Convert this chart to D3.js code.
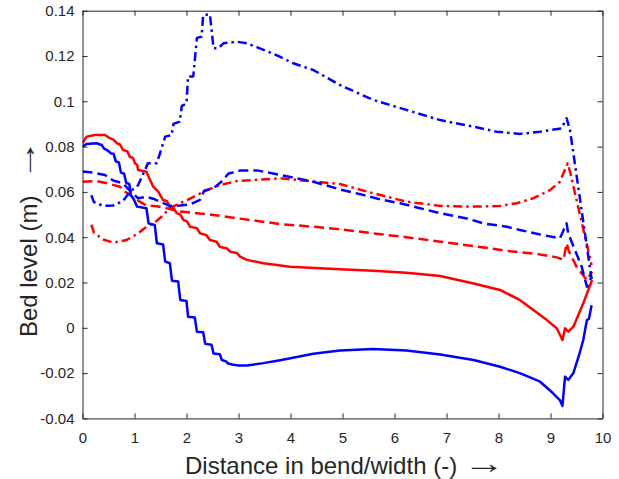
<!DOCTYPE html>
<html>
<head>
<meta charset="utf-8">
<script src="https://cdn.jsdelivr.net/npm/d3@7"></script>
<style>
  html, body { margin: 0; padding: 0; background: #fff; }
  svg { display: block; }
  text { font-family: "Liberation Sans", Arial, Helvetica, sans-serif; fill: #262626; }
</style>
</head>
<body>
<svg id="chart" width="619" height="479"></svg>
<script>
// ---- data ----
const xTicks = [0, 1, 2, 3, 4, 5, 6, 7, 8, 9, 10];
const yTicks = [0.14, 0.12, 0.1, 0.08, 0.06, 0.04, 0.02, 0, -0.02, -0.04];
const yTickLabels = ["0.14", "0.12", "0.1", "0.08", "0.06", "0.04", "0.02", "0", "-0.02", "-0.04"];
const xLabel = "Distance in bend/width (-)";
const yLabel = "Bed level (m)";
const arrow = "\u2192";

const blueSolid = [[0.0,0.0800],[0.08,0.0812],[0.27,0.0815],[0.37,0.0807],[0.42,0.079],[0.47,0.0785],[0.55,0.077],[0.6,0.0768],[0.64,0.0735],[0.7,0.073],[0.74,0.0685],[0.8,0.068],[0.84,0.064],[0.9,0.0635],[0.93,0.0585],[0.98,0.057],[1.05,0.0535],[1.23,0.0528],[1.27,0.0461],[1.39,0.0454],[1.43,0.0373],[1.55,0.0368],[1.59,0.0292],[1.68,0.0285],[1.72,0.0208],[1.84,0.0204],[1.88,0.0123],[2.0,0.0118],[2.03,0.0049],[2.16,0.0045],[2.2,-0.0017],[2.32,-0.002],[2.36,-0.0071],[2.48,-0.0075],[2.52,-0.0113],[2.64,-0.0117],[2.68,-0.0142],[2.76,-0.0148],[2.8,-0.0158],[2.9,-0.0163],[3.0,-0.0166],[3.16,-0.0166],[3.48,-0.0156],[3.8,-0.0143],[4.12,-0.0129],[4.44,-0.0115],[4.95,-0.0100],[5.59,-0.0094],[6.23,-0.0100],[6.88,-0.0118],[7.52,-0.0142],[8.03,-0.0172],[8.41,-0.0200],[8.8,-0.0238],[9.05,-0.0289],[9.18,-0.0319],[9.23,-0.0345],[9.28,-0.0216],[9.34,-0.0230],[9.44,-0.0200],[9.55,-0.012],[9.63,-0.0054],[9.7,0.0034],[9.74,0.004],[9.79,0.0100]];

const redSolid = [[0.0,0.0815],[0.08,0.0844],[0.24,0.0851],[0.43,0.0851],[0.53,0.0837],[0.6,0.083],[0.66,0.0815],[0.72,0.081],[0.78,0.0785],[0.86,0.078],[0.91,0.0755],[0.97,0.075],[1.01,0.0726],[1.05,0.072],[1.07,0.0697],[1.23,0.0689],[1.3,0.0653],[1.36,0.0623],[1.46,0.060],[1.55,0.0564],[1.62,0.056],[1.68,0.0535],[1.75,0.053],[1.81,0.0506],[1.88,0.05],[1.94,0.0476],[2.01,0.047],[2.07,0.0446],[2.2,0.044],[2.26,0.0417],[2.38,0.041],[2.45,0.0388],[2.58,0.038],[2.64,0.0358],[2.78,0.035],[2.84,0.0336],[2.97,0.033],[3.03,0.0314],[3.16,0.030],[3.48,0.0285],[3.99,0.027],[4.95,0.0258],[5.59,0.0252],[6.23,0.0243],[6.88,0.0229],[7.52,0.0196],[8.03,0.0167],[8.41,0.0123],[8.67,0.0079],[8.93,0.0034],[9.12,-0.0002],[9.23,-0.0054],[9.28,-0.0002],[9.34,-0.0017],[9.44,0.0005],[9.63,0.0108],[9.8,0.0211]];

const blueDashed = [[0.0,0.069],[0.21,0.0685],[0.43,0.0675],[0.59,0.065],[0.78,0.0638],[0.91,0.0605],[1.07,0.0572],[1.23,0.0578],[1.36,0.057],[1.49,0.0557],[1.68,0.0538],[1.88,0.054],[2.07,0.0545],[2.26,0.0565],[2.34,0.0605],[2.52,0.0616],[2.71,0.0653],[2.8,0.068],[3.03,0.0694],[3.35,0.0695],[3.8,0.0675],[4.44,0.0645],[4.95,0.0611],[5.34,0.059],[5.72,0.0567],[6.11,0.055],[6.49,0.0528],[6.88,0.0506],[7.39,0.0483],[7.71,0.0461],[8.16,0.0446],[8.41,0.0432],[8.8,0.0412],[9.18,0.0395],[9.31,0.0461],[9.34,0.0417],[9.6,0.027],[9.7,0.0181],[9.79,0.0226]];

const redDashed = [[0.0,0.0645],[0.27,0.0648],[0.47,0.0638],[0.72,0.0623],[0.78,0.0608],[0.91,0.0586],[1.01,0.057],[1.1,0.0557],[1.23,0.054],[1.43,0.0537],[1.62,0.0528],[1.88,0.0513],[2.2,0.0506],[2.52,0.0498],[3.03,0.0482],[3.8,0.0458],[4.44,0.0446],[4.95,0.0435],[5.59,0.0417],[6.23,0.040],[6.88,0.038],[7.52,0.0361],[8.16,0.034],[8.8,0.0324],[9.12,0.0311],[9.25,0.030],[9.31,0.0373],[9.35,0.034],[9.5,0.027],[9.7,0.021],[9.8,0.0248]];

const blueDashDot = [[0.17,0.0585],[0.22,0.0555],[0.4,0.0538],[0.59,0.054],[0.78,0.056],[0.91,0.060],[1.07,0.063],[1.14,0.0667],[1.26,0.0727],[1.43,0.0727],[1.49,0.077],[1.59,0.0844],[1.71,0.085],[1.75,0.090],[1.87,0.091],[1.91,0.098],[2.0,0.099],[2.03,0.111],[2.13,0.111],[2.2,0.128],[2.29,0.1285],[2.32,0.138],[2.45,0.1384],[2.52,0.1234],[2.61,0.1234],[2.71,0.1256],[2.97,0.1263],[3.16,0.1256],[3.41,0.1234],[3.73,0.1204],[4.05,0.1168],[4.44,0.1138],[4.95,0.1072],[5.59,0.1006],[6.23,0.0962],[6.88,0.0917],[7.52,0.0888],[7.96,0.0866],[8.41,0.0856],[8.8,0.0866],[9.21,0.088],[9.31,0.0925],[9.375,0.0873],[9.79,0.0215]];

const redDashDot = [[0.17,0.0455],[0.22,0.042],[0.4,0.039],[0.59,0.0376],[0.85,0.0388],[1.07,0.0417],[1.23,0.0446],[1.36,0.046],[1.52,0.049],[1.68,0.0528],[1.875,0.055],[2.07,0.057],[2.39,0.0608],[2.64,0.063],[2.97,0.0648],[3.8,0.066],[4.95,0.0635],[5.59,0.0594],[6.23,0.0557],[6.88,0.0538],[7.52,0.0535],[8.03,0.0538],[8.35,0.055],[8.67,0.0572],[8.99,0.0608],[9.18,0.0645],[9.33,0.0726],[9.375,0.069],[9.79,0.0277]];

const seriesList = [
  { data: redSolid,    color: "#ff0000", dash: null },
  { data: redDashed,   color: "#ff0000", dash: "10,5" },
  { data: redDashDot,  color: "#ff0000", dash: "9,4,2.5,4" },
  { data: blueSolid,   color: "#0000ff", dash: null },
  { data: blueDashed,  color: "#0000ff", dash: "10,5" },
  { data: blueDashDot, color: "#0000ff", dash: "9,4,2.5,4" }
];

// ---- layout ----
const svg = d3.select("#chart");
const L = 82.5, R = 602.5, T = 10.7, B = 418.4;
const x = d3.scaleLinear().domain([0, 10]).range([L, R]);
const y = d3.scaleLinear().domain([-0.04, 0.14]).range([B, T]);
const axisColor = "#262626";
const tickLen = 5;

svg.append("rect").attr("x", 0).attr("y", 0).attr("width", 619).attr("height", 479).attr("fill", "#fff");

// lines
svg.append("clipPath").attr("id", "plotclip").append("rect")
  .attr("x", L).attr("y", T).attr("width", R - L).attr("height", B - T);
const line = d3.line().x(d => x(d[0])).y(d => y(d[1]));
const gLines = svg.append("g").attr("clip-path", "url(#plotclip)");
seriesList.forEach(s => {
  gLines.append("path")
    .attr("d", line(s.data))
    .attr("fill", "none")
    .attr("stroke", s.color)
    .attr("stroke-width", 2.5)
    .attr("stroke-linejoin", "round")
    .attr("stroke-dasharray", s.dash);
});

// axes (box style, ticks inward on all sides)
const fmtY = d => yTickLabels[yTicks.indexOf(d)];
const axB = d3.axisBottom(x).tickValues(xTicks).tickSizeInner(-tickLen).tickSizeOuter(0).tickPadding(14).tickFormat(d3.format("d"));
const axT = d3.axisTop(x).tickValues(xTicks).tickSizeInner(-tickLen).tickSizeOuter(0).tickFormat("");
const axL = d3.axisLeft(y).tickValues(yTicks).tickSizeInner(-tickLen).tickSizeOuter(0).tickPadding(8).tickFormat(fmtY);
const axR = d3.axisRight(y).tickValues(yTicks).tickSizeInner(-tickLen).tickSizeOuter(0).tickFormat("");

function styleAxis(g) {
  g.selectAll("path.domain").attr("stroke", axisColor).attr("stroke-width", 1);
  g.selectAll(".tick line").attr("stroke", axisColor).attr("stroke-width", 1);
  g.selectAll(".tick text").attr("fill", axisColor)
    .style("font-family", '"Liberation Sans", Arial, Helvetica, sans-serif')
    .style("font-size", "15px");
}
svg.append("g").attr("transform", `translate(0,${B})`).call(axB).call(styleAxis);
svg.append("g").attr("transform", `translate(0,${T})`).call(axT).call(styleAxis);
svg.append("g").attr("transform", `translate(${L},0)`).call(axL).call(styleAxis);
svg.append("g").attr("transform", `translate(${R},0)`).call(axR).call(styleAxis);

// axis labels
svg.append("text")
  .attr("x", 185).attr("y", 474)
  .attr("text-anchor", "start")
  .style("font-size", "24px")
  .text(xLabel);
svg.append("text")
  .attr("transform", "translate(37,337) rotate(-90)")
  .attr("text-anchor", "start")
  .style("font-size", "24px")
  .text(yLabel);

// long thin arrows: a text glyph stretched horizontally
const arrowScale = 1.5, arrowShift = 8.4;
function addArrow(tx, ty, rot) {
  svg.append("g").attr("transform", `translate(${tx},${ty}) rotate(${rot})`)
    .append("text")
    .attr("transform", `translate(${-arrowShift},0) scale(${arrowScale},1)`)
    .style("font-size", "28px")
    .text(arrow);
}
addArrow(472, 473, 0);
addArrow(35, 172, -90);
</script>
</body>
</html>
